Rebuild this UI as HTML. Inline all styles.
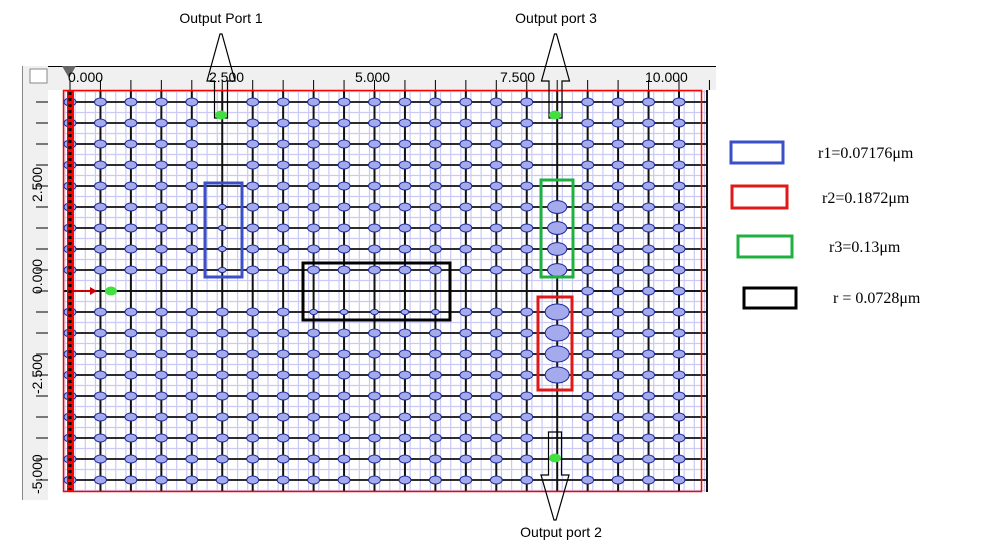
<!DOCTYPE html>
<html><head><meta charset="utf-8"><style>
html,body{margin:0;padding:0;background:#fff;width:998px;height:553px;overflow:hidden}
svg{display:block}
</style></head><body>
<svg id="s" width="998" height="553" xmlns="http://www.w3.org/2000/svg" font-family="Liberation Sans, sans-serif">
<rect width="998" height="553" fill="#fff"/>
<rect x="22" y="66" width="694" height="24" fill="#f0f0f0"/>
<line x1="22" y1="66.5" x2="716" y2="66.5" stroke="#000"/>
<rect x="22" y="66" width="26" height="434" fill="#f0f0f0"/>
<line x1="22.5" y1="66" x2="22.5" y2="500" stroke="#888"/>
<rect x="30" y="69" width="17" height="14" fill="#fff" stroke="#888"/>
<g id="grid"></g>
<g font-size="14" fill="#000">
<text x="68" y="82">0.000</text>
<text x="209" y="82">2.500</text>
<text x="355" y="82">5.000</text>
<text x="500" y="82">7.500</text>
<text x="645" y="82">10.000</text>
<text transform="translate(42,202) rotate(-90)">2.500</text>
<text transform="translate(42,294) rotate(-90)">0.000</text>
<text transform="translate(42,394) rotate(-90)">-2.500</text>
<text transform="translate(42,494) rotate(-90)">-5.000</text>
</g>
<g font-size="14" fill="#000">
<text x="221" y="23" text-anchor="middle">Output Port 1</text>
<text x="556" y="23" text-anchor="middle">Output port 3</text>
<text x="561" y="537" text-anchor="middle">Output port 2</text>
</g>
<g font-family="Liberation Serif, serif" font-size="16" fill="#000">
<text x="818" y="158">r1=0.07176μm</text>
<text x="822" y="203">r2=0.1872μm</text>
<text x="829" y="252">r3=0.13μm</text>
<text x="833" y="303">r = 0.0728μm</text>
</g>
<rect x="731" y="142" width="52" height="21" fill="none" stroke="#3a4fc8" stroke-width="3"/>
<rect x="732" y="186" width="55" height="22" fill="none" stroke="#e01818" stroke-width="3"/>
<rect x="738" y="236" width="54" height="21" fill="none" stroke="#20b040" stroke-width="3"/>
<rect x="744" y="288" width="52" height="20" fill="none" stroke="#000" stroke-width="3"/>
</svg>
<script>
var NS="http://www.w3.org/2000/svg",g=document.getElementById("grid");
function el(t,a){var e=document.createElementNS(NS,t);for(var k in a)e.setAttribute(k,a[k]);g.appendChild(e);return e;}
el("rect",{x:63,y:90,width:645,height:402,fill:"#fff"});
for(var x=65;x<706;x+=10.15)el("line",{x1:x,y1:90,x2:x,y2:492,stroke:"#cacaf4","stroke-width":1.2});
for(var y=91.5;y<492;y+=10.5)el("line",{x1:63,y1:y,x2:706,y2:y,stroke:"#cacaf4","stroke-width":1.2});
for(var x=70;x<712;x+=30.45){el("line",{x1:x,y1:80,x2:x,y2:90,stroke:"#000"});}
for(var y=102;y<495;y+=21){el("line",{x1:36,y1:y,x2:48,y2:y,stroke:"#000"});}
var cols=[],rows=[];for(var i=0;i<21;i++)cols.push(70+30.45*i);for(var j=0;j<19;j++)rows.push(102+21*j);
cols.forEach(function(x,i){el("line",{x1:x,y1:90,x2:x,y2:492,stroke:"#111","stroke-width":2});});
el("line",{x1:707,y1:90,x2:707,y2:492,stroke:"#111","stroke-width":2});
rows.forEach(function(y){el("line",{x1:63,y1:y,x2:707,y2:y,stroke:"#111","stroke-width":1.8});});
el("line",{x1:63,y1:291,x2:707,y2:291,stroke:"#111","stroke-width":1.8});
el("rect",{x:63.5,y:90.5,width:638,height:401,fill:"none",stroke:"#f00","stroke-width":1.5});
rows.forEach(function(y,j){cols.forEach(function(x,i){
 var r=1;
 if(j==9&&i<=16)return;
 if(i==5){if(j<=4)return;if(j<=8)r=0.65;}
 if(i==16){if(j>=5&&j<=8)r=1.6;else if(j>=10&&j<=13)r=2;else return;}
 if(j==10&&i>=8&&i<=12)r=0.65;
 el("ellipse",{cx:x,cy:y,rx:6*r,ry:4*r,fill:"#a4aaec",stroke:"#1a2a9a","stroke-width":1});
});});
el("rect",{x:67,y:90,width:7,height:402,fill:"#f00"});
el("line",{x1:70,y1:92,x2:70,y2:490,stroke:"#000","stroke-width":3,"stroke-dasharray":"3,3"});
el("line",{x1:72,y1:291,x2:92,y2:291,stroke:"#c00","stroke-width":2});
el("polygon",{points:"90,287 97,291 90,295",fill:"#c00"});
el("ellipse",{cx:111,cy:291,rx:6,ry:4.5,fill:"#40e040"});
el("polygon",{points:"62,66 76,66 69,78",fill:"#666"});
function up(x,ytop,yflare,ybot){el("polygon",{points:(x-6.5)+","+ybot+" "+(x-6.5)+","+(yflare+6)+" "+(x-14)+","+(yflare+6)+" "+(x-1)+","+ytop+" "+(x+1)+","+ytop+" "+(x+14)+","+(yflare+6)+" "+(x+6.5)+","+(yflare+6)+" "+(x+6.5)+","+ybot,fill:"none",stroke:"#000","stroke-width":1.2});}
up(221,34,75,118);up(555.5,34,75,118);
var x=555,yb=432;
el("polygon",{points:(x-6.5)+","+yb+" "+(x+6.5)+","+yb+" "+(x+6.5)+",475 "+(x+14)+",475 "+(x+1)+",520 "+(x-1)+",520 "+(x-14)+",475 "+(x-6.5)+",475",fill:"none",stroke:"#000","stroke-width":1.2});
el("ellipse",{cx:221,cy:115,rx:6,ry:4.5,fill:"#40e040"});
el("ellipse",{cx:555,cy:115,rx:6,ry:4.5,fill:"#40e040"});
el("ellipse",{cx:555,cy:458,rx:6,ry:4.5,fill:"#40e040"});
el("rect",{x:205,y:183,width:37,height:94,fill:"none",stroke:"#3a4fc8","stroke-width":3});
el("rect",{x:303,y:263,width:147,height:57,fill:"none",stroke:"#000","stroke-width":3});
el("rect",{x:541,y:180,width:32,height:97,fill:"none",stroke:"#20b040","stroke-width":3});
el("rect",{x:538,y:297,width:34,height:93,fill:"none",stroke:"#e01818","stroke-width":3});
</script>
</body></html>
